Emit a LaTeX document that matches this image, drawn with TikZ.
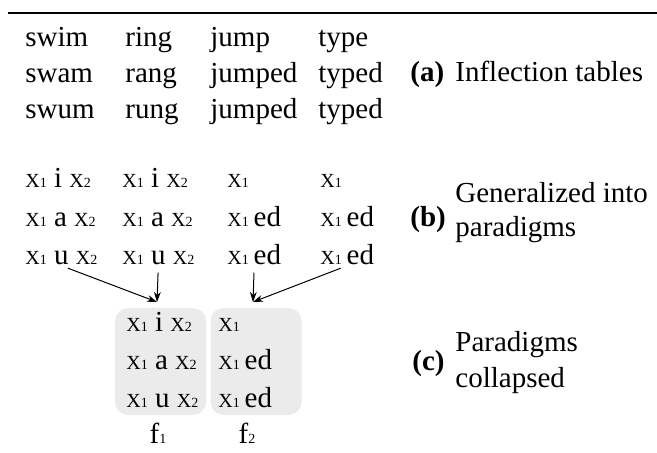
\documentclass[tikz,border=0pt]{standalone}
\usepackage{fontspec}
\setmainfont{Liberation Serif}
\usetikzlibrary{arrows.meta}
\newcommand{\xv}[1]{{\fontsize{10pt}{10pt}\selectfont X}{\fontsize{7pt}{7pt}\selectfont #1}}
\newcommand{\fsub}[1]{f{\fontsize{7pt}{7pt}\selectfont #1}}
\begin{document}
\begin{tikzpicture}[x=0.5pt,y=-0.5pt,
  txt/.style={anchor=base west,inner sep=0pt,font=\fontsize{14.5pt}{17pt}\selectfont},
  ctxt/.style={anchor=base,inner sep=0pt,font=\fontsize{14.5pt}{17pt}\selectfont},
  lab/.style={anchor=base west,inner sep=0pt,font=\fontsize{14.5pt}{17pt}\selectfont\bfseries},
  pbox/.style={rectangle,rounded corners=6.5pt,fill=black!8,inner sep=0pt,minimum width=45.5pt,minimum height=53.5pt},
  arr/.style={line width=0.5pt,-{Stealth[length=5pt,width=3.4pt,inset=1.6pt]},shorten <=3.5pt}]
\useasboundingbox (0,0) rectangle (657,453);
\draw[line width=1pt] (8,13) coordinate (r0) -- (657,13) coordinate (r1);
% (a) inflection tables
\node[txt] (a11) at (25,47) {swim};
\node[txt] (a12) at (125,47) {ring};
\node[txt] (a13) at (210,47) {jump};
\node[txt] (a14) at (318,47) {type};
\node[txt] (a21) at (25,83) {swam};
\node[txt] (a22) at (125,83) {rang};
\node[txt] (a23) at (210,83) {jumped};
\node[txt] (a24) at (318,83) {typed};
\node[txt] (a31) at (25,119) {swum};
\node[txt] (a32) at (125,119) {rung};
\node[txt] (a33) at (210,119) {jumped};
\node[txt] (a34) at (318,119) {typed};
\node[lab] (la) at (410,82) {(a)};
\node[txt] (ta) at (455,82) {Inflection tables};
% (b) paradigms
\node[txt] (b11) at (25,188) {\xv1 i \xv2};
\node[txt] (b12) at (122,188) {\xv1 i \xv2};
\node[txt] (b13) at (227,188) {\xv1};
\node[txt] (b14) at (320,188) {\xv1};
\node[txt] (b21) at (25,227) {\xv1 a \xv2};
\node[txt] (b22) at (122,227) {\xv1 a \xv2};
\node[txt] (b23) at (227,227) {\xv1\,ed};
\node[txt] (b24) at (320,227) {\xv1\,ed};
\node[txt] (b31) at (25,265) {\xv1 u \xv2};
\node[txt] (b32) at (122,265) {\xv1 u \xv2};
\node[txt] (b33) at (227,265) {\xv1\,ed};
\node[txt] (b34) at (320,265) {\xv1\,ed};
\node[lab] (lb) at (410,227) {(b)};
\node[txt] (tb1) at (455,203) {Generalized into};
\node[txt] (tb2) at (455,237) {paradigms};
% (c) collapsed
\node[pbox] (f1box) at (160.5,361.5) {};
\node[pbox] (f2box) at (256,361.5) {};
\node[txt] (c11) at (126,332) {\xv1 i \xv2};
\node[txt] (c21) at (126,370) {\xv1 a \xv2};
\node[txt] (c31) at (126,408) {\xv1 u \xv2};
\node[txt] (c12) at (218,332) {\xv1};
\node[txt] (c22) at (218,370) {\xv1\,ed};
\node[txt] (c32) at (218,408) {\xv1\,ed};
\node[ctxt] (f1) at (158,443) {\fsub1};
\node[ctxt] (f2) at (247,443) {\fsub2};
\node[lab] (lc) at (412,371) {(c)};
\node[txt] (tc1) at (455,352) {Paradigms};
\node[txt] (tc2) at (455,387) {collapsed};
% arrows
\coordinate (t1) at (157,302);
\coordinate (t2) at (253,302);
\draw[arr] (b31.south) -- (t1);
\draw[arr] (b32.south) -- (t1);
\draw[arr] (b33.south) -- (t2);
\draw[arr] (b34.south) -- (t2);
\end{tikzpicture}
\end{document}
